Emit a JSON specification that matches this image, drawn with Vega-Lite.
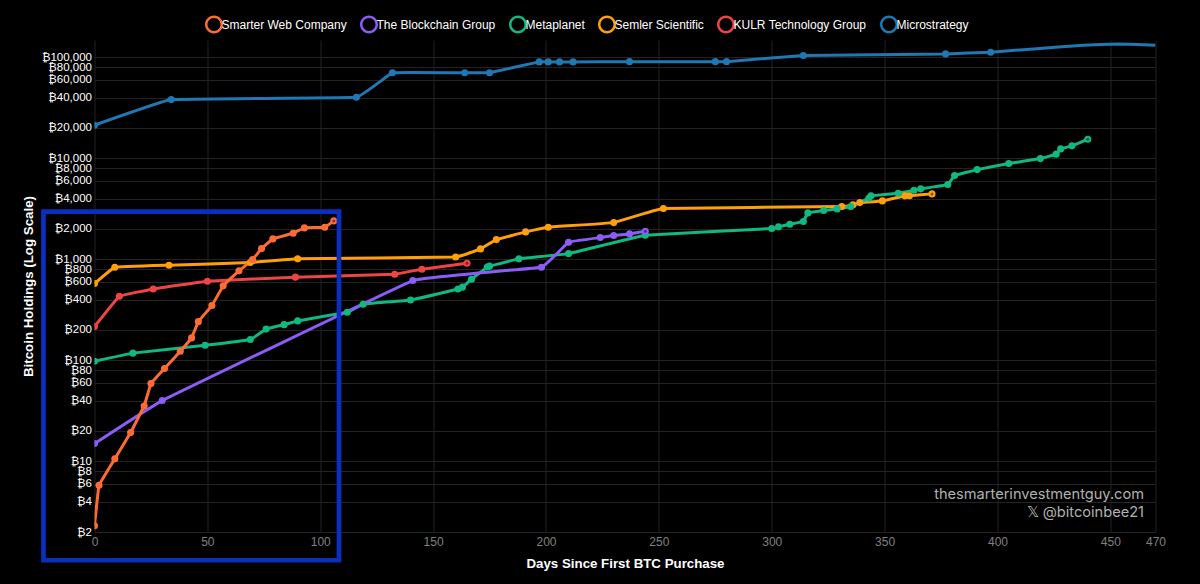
{
  "$schema": "https://vega.github.io/schema/vega-lite/v6.json",
  "width": 1061,
  "height": 492,
  "autosize": "none",
  "padding": {"left": 94.5, "top": 40, "right": 44.5, "bottom": 52},
  "background": "#000000",
  "datasets": {
    "holdings": [
      {"company": "Microstrategy", "day": 0, "btc": 21300},
      {"company": "Microstrategy", "day": 34, "btc": 38200},
      {"company": "Microstrategy", "day": 116, "btc": 40300},
      {"company": "Microstrategy", "day": 132, "btc": 70300},
      {"company": "Microstrategy", "day": 164, "btc": 70300},
      {"company": "Microstrategy", "day": 175, "btc": 70500},
      {"company": "Microstrategy", "day": 197, "btc": 90200},
      {"company": "Microstrategy", "day": 201, "btc": 90200},
      {"company": "Microstrategy", "day": 206, "btc": 90200},
      {"company": "Microstrategy", "day": 212, "btc": 90200},
      {"company": "Microstrategy", "day": 237, "btc": 90700},
      {"company": "Microstrategy", "day": 275, "btc": 90700},
      {"company": "Microstrategy", "day": 280, "btc": 90700},
      {"company": "Microstrategy", "day": 314, "btc": 104200},
      {"company": "Microstrategy", "day": 377, "btc": 108300},
      {"company": "Microstrategy", "day": 397, "btc": 112500},
      {"company": "Microstrategy", "day": 416, "btc": 121300, "sample": true},
      {"company": "Microstrategy", "day": 438, "btc": 132100, "sample": true},
      {"company": "Microstrategy", "day": 454, "btc": 135500, "sample": true},
      {"company": "Microstrategy", "day": 470, "btc": 132100, "sample": true},
      {"company": "KULR Technology Group", "day": 0, "btc": 216},
      {"company": "KULR Technology Group", "day": 11, "btc": 432},
      {"company": "KULR Technology Group", "day": 26, "btc": 510},
      {"company": "KULR Technology Group", "day": 50, "btc": 608},
      {"company": "KULR Technology Group", "day": 89, "btc": 667},
      {"company": "KULR Technology Group", "day": 133, "btc": 714},
      {"company": "KULR Technology Group", "day": 145, "btc": 800},
      {"company": "KULR Technology Group", "day": 165, "btc": 917},
      {"company": "Semler Scientific", "day": 0, "btc": 576},
      {"company": "Semler Scientific", "day": 9, "btc": 837},
      {"company": "Semler Scientific", "day": 33, "btc": 876},
      {"company": "Semler Scientific", "day": 69, "btc": 930},
      {"company": "Semler Scientific", "day": 90, "btc": 1012},
      {"company": "Semler Scientific", "day": 160, "btc": 1058},
      {"company": "Semler Scientific", "day": 171, "btc": 1270},
      {"company": "Semler Scientific", "day": 178, "btc": 1570},
      {"company": "Semler Scientific", "day": 191, "btc": 1871},
      {"company": "Semler Scientific", "day": 201, "btc": 2084},
      {"company": "Semler Scientific", "day": 230, "btc": 2312},
      {"company": "Semler Scientific", "day": 252, "btc": 3184},
      {"company": "Semler Scientific", "day": 331, "btc": 3334},
      {"company": "Semler Scientific", "day": 336, "btc": 3467},
      {"company": "Semler Scientific", "day": 339, "btc": 3648},
      {"company": "Semler Scientific", "day": 349, "btc": 3793},
      {"company": "Semler Scientific", "day": 359, "btc": 4255},
      {"company": "Semler Scientific", "day": 361, "btc": 4270},
      {"company": "Semler Scientific", "day": 371, "btc": 4452},
      {"company": "Metaplanet", "day": 0, "btc": 98},
      {"company": "Metaplanet", "day": 17, "btc": 118},
      {"company": "Metaplanet", "day": 49, "btc": 141},
      {"company": "Metaplanet", "day": 69, "btc": 161},
      {"company": "Metaplanet", "day": 76, "btc": 204},
      {"company": "Metaplanet", "day": 84, "btc": 226},
      {"company": "Metaplanet", "day": 90, "btc": 246},
      {"company": "Metaplanet", "day": 112, "btc": 300},
      {"company": "Metaplanet", "day": 119, "btc": 360},
      {"company": "Metaplanet", "day": 140, "btc": 397},
      {"company": "Metaplanet", "day": 161, "btc": 510},
      {"company": "Metaplanet", "day": 163, "btc": 531},
      {"company": "Metaplanet", "day": 167, "btc": 637},
      {"company": "Metaplanet", "day": 174, "btc": 840},
      {"company": "Metaplanet", "day": 175, "btc": 857},
      {"company": "Metaplanet", "day": 188, "btc": 1012},
      {"company": "Metaplanet", "day": 210, "btc": 1141},
      {"company": "Metaplanet", "day": 244, "btc": 1737},
      {"company": "Metaplanet", "day": 300, "btc": 2018},
      {"company": "Metaplanet", "day": 303, "btc": 2099},
      {"company": "Metaplanet", "day": 308, "btc": 2232},
      {"company": "Metaplanet", "day": 314, "btc": 2368},
      {"company": "Metaplanet", "day": 316, "btc": 2885},
      {"company": "Metaplanet", "day": 323, "btc": 3043},
      {"company": "Metaplanet", "day": 329, "btc": 3162},
      {"company": "Metaplanet", "day": 335, "btc": 3334},
      {"company": "Metaplanet", "day": 343, "btc": 4036},
      {"company": "Metaplanet", "day": 344, "btc": 4255},
      {"company": "Metaplanet", "day": 356, "btc": 4520},
      {"company": "Metaplanet", "day": 363, "btc": 4845},
      {"company": "Metaplanet", "day": 366, "btc": 4990},
      {"company": "Metaplanet", "day": 378, "btc": 5504},
      {"company": "Metaplanet", "day": 381, "btc": 6761},
      {"company": "Metaplanet", "day": 391, "btc": 7743},
      {"company": "Metaplanet", "day": 405, "btc": 8886},
      {"company": "Metaplanet", "day": 419, "btc": 9950},
      {"company": "Metaplanet", "day": 426, "btc": 11012},
      {"company": "Metaplanet", "day": 428, "btc": 12417},
      {"company": "Metaplanet", "day": 433, "btc": 13300},
      {"company": "Metaplanet", "day": 440, "btc": 15488},
      {"company": "The Blockchain Group", "day": 0, "btc": 15},
      {"company": "The Blockchain Group", "day": 30, "btc": 40},
      {"company": "The Blockchain Group", "day": 141, "btc": 617},
      {"company": "The Blockchain Group", "day": 198, "btc": 837},
      {"company": "The Blockchain Group", "day": 210, "btc": 1480},
      {"company": "The Blockchain Group", "day": 224, "btc": 1644},
      {"company": "The Blockchain Group", "day": 230, "btc": 1721},
      {"company": "The Blockchain Group", "day": 237, "btc": 1788},
      {"company": "The Blockchain Group", "day": 244, "btc": 1902},
      {"company": "Smarter Web Company", "day": 0, "btc": 2.3},
      {"company": "Smarter Web Company", "day": 2, "btc": 5.8},
      {"company": "Smarter Web Company", "day": 9, "btc": 10.6},
      {"company": "Smarter Web Company", "day": 16, "btc": 19.3},
      {"company": "Smarter Web Company", "day": 22, "btc": 35.4},
      {"company": "Smarter Web Company", "day": 25, "btc": 58.9},
      {"company": "Smarter Web Company", "day": 31, "btc": 83},
      {"company": "Smarter Web Company", "day": 38, "btc": 123},
      {"company": "Smarter Web Company", "day": 43, "btc": 167},
      {"company": "Smarter Web Company", "day": 46, "btc": 242},
      {"company": "Smarter Web Company", "day": 52, "btc": 349},
      {"company": "Smarter Web Company", "day": 57, "btc": 547},
      {"company": "Smarter Web Company", "day": 64, "btc": 770},
      {"company": "Smarter Web Company", "day": 70, "btc": 995},
      {"company": "Smarter Web Company", "day": 74, "btc": 1279},
      {"company": "Smarter Web Company", "day": 79, "btc": 1596},
      {"company": "Smarter Web Company", "day": 88, "btc": 1817},
      {"company": "Smarter Web Company", "day": 93, "btc": 2051},
      {"company": "Smarter Web Company", "day": 102, "btc": 2084},
      {"company": "Smarter Web Company", "day": 106, "btc": 2404}
    ]
  },
  "layer": [
    {
      "data": {"name": "holdings"},
      "mark": {"type": "line", "interpolate": "cardinal", "tension": 0.85, "strokeWidth": 3, "clip": true},
      "encoding": {
        "x": {
          "field": "day",
          "type": "quantitative",
          "title": "Days Since First BTC Purchase",
          "scale": {"domain": [0, 470], "nice": false},
          "axis": {
            "values": [0, 50, 100, 150, 200, 250, 300, 350, 400, 450, 470],
            "format": "d",
            "labelColor": "#808080",
            "labelOverlap": false,
            "labelFlush": false,
            "labelPadding": 4,
            "titlePadding": 9
          }
        },
        "y": {
          "field": "btc",
          "type": "quantitative",
          "title": "Bitcoin Holdings (Log Scale)",
          "scale": {"type": "log", "domain": [2, 148600], "nice": false},
          "axis": {
            "values": [2, 4, 6, 8, 10, 20, 40, 60, 80, 100, 200, 400, 600, 800, 1000, 2000, 4000, 6000, 8000, 10000, 20000, 40000, 60000, 80000, 100000],
            "labelExpr": "'₿' + format(datum.value, ',')",
            "labelColor": "#ffffff",
            "labelFontSize": 11.5,
            "labelOverlap": false,
            "labelPadding": 3,
            "titlePadding": 6
          }
        },
        "stroke": {
          "field": "company",
          "type": "nominal",
          "scale": {
            "domain": ["Smarter Web Company", "The Blockchain Group", "Metaplanet", "Semler Scientific", "KULR Technology Group", "Microstrategy"],
            "range": ["#FF6B35", "#8B5CF6", "#10B981", "#FF9F0A", "#EF4444", "#1F77B4"]
          },
          "legend": {
            "orient": "none",
            "legendX": 110.5,
            "legendY": -24.5,
            "direction": "horizontal",
            "columns": 6,
            "title": null,
            "symbolType": "M -1 0 A 1 1 0 1 1 1 0 A 1 1 0 1 1 -1 0 Z M -0.72 0 A 0.72 0.72 0 1 0 0.72 0 A 0.72 0.72 0 1 0 -0.72 0 Z",
            "symbolSize": 324,
            "symbolStrokeWidth": 0,
            "labelColor": "#ffffff",
            "labelFont": "Liberation Sans",
            "labelFontSize": 12,
            "labelOffset": -1.5,
            "columnPadding": 13,
            "labelLimit": 200
          }
        }
      }
    },
    {
      "data": {"name": "holdings"},
      "transform": [{"filter": "!datum.sample"}],
      "mark": {"type": "point", "filled": true, "size": 50, "opacity": 1, "clip": true},
      "encoding": {
        "x": {"field": "day", "type": "quantitative"},
        "y": {"field": "btc", "type": "quantitative"},
        "fill": {
          "field": "company",
          "type": "nominal",
          "scale": {
            "domain": ["Smarter Web Company", "The Blockchain Group", "Metaplanet", "Semler Scientific", "KULR Technology Group", "Microstrategy"],
            "range": ["#FF6B35", "#8B5CF6", "#10B981", "#FF9F0A", "#EF4444", "#1F77B4"]
          },
          "legend": null
        }
      }
    },
    {
      "data": {"name": "holdings"},
      "transform": [
        {"joinaggregate": [{"op": "max", "field": "day", "as": "last"}], "groupby": ["company"]},
        {"filter": "datum.day === datum.last && !datum.sample"}
      ],
      "mark": {"type": "point", "filled": true, "size": 9, "opacity": 0.45, "color": "#000000"},
      "encoding": {
        "x": {"field": "day", "type": "quantitative"},
        "y": {"field": "btc", "type": "quantitative"}
      }
    },
    {
      "data": {
        "values": [
          {"line": "thesmarterinvestmentguy.com", "day": 464.9, "btc": 4.6},
          {"line": "𝕏 @bitcoinbee21", "day": 464.9, "btc": 3.05}
        ]
      },
      "mark": {"type": "text", "align": "right", "baseline": "middle", "font": "Inter", "fontSize": 14.6, "color": "#b0b0b0"},
      "encoding": {
        "x": {"field": "day", "type": "quantitative"},
        "y": {"field": "btc", "type": "quantitative"},
        "text": {"field": "line"}
      }
    },
    {
      "data": {"values": [{"x0": -22.6, "x1": 108.3, "y0": 1.05, "y1": 2973}]},
      "mark": {"type": "rect", "fill": "transparent", "stroke": "#0A2FBF", "strokeWidth": 4.7, "clip": false},
      "encoding": {
        "x": {"field": "x0", "type": "quantitative"},
        "x2": {"field": "x1"},
        "y": {"field": "y0", "type": "quantitative"},
        "y2": {"field": "y1"}
      }
    }
  ],
  "config": {
    "view": {"stroke": null},
    "font": "Liberation Sans",
    "axis": {
      "domain": false,
      "ticks": false,
      "grid": true,
      "gridColor": "#232323",
      "gridWidth": 1,
      "labelFont": "Liberation Sans",
      "labelFontSize": 12,
      "titleFont": "Liberation Sans",
      "titleFontSize": 13.3,
      "titleFontWeight": "bold",
      "titleColor": "#ffffff"
    }
  }
}
